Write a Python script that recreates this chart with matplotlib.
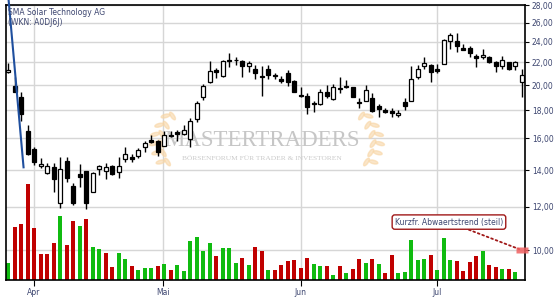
import numpy as np
import matplotlib.pyplot as plt
from matplotlib.patches import Rectangle, Ellipse
from matplotlib.ticker import NullLocator
from matplotlib.transforms import blended_transform_factory, IdentityTransform

# daily candles, SMA Solar (end of March .. start of July)
opens = [21.10, 19.93, 19.00, 16.49, 15.29, 14.23, 13.81, 14.16, 12.17, 14.54,
         13.09, 13.77, 13.94, 12.78, 14.08, 13.92, 14.23, 13.90, 14.66, 14.78,
         14.87, 15.40, 15.90, 15.84, 15.48, 16.22, 16.40, 16.27, 15.95, 17.32,
         19.02, 20.28, 21.35, 20.77, 22.24, 22.27, 22.13, 21.70, 21.40, 20.76,
         21.40, 20.86, 20.52, 21.00, 20.34, 19.18, 19.10, 18.52, 18.47, 19.45,
         18.85, 19.70, 19.93, 19.80, 18.62, 18.74, 18.93, 18.34, 18.01, 17.94,
         17.64, 18.62, 18.74, 20.72, 21.70, 21.79, 21.39, 21.88, 24.03, 24.03,
         23.40, 23.40, 22.63, 22.48, 22.48, 22.07, 21.70, 22.05, 21.68, 20.25]
highs = [21.94, 20.69, 19.45, 16.91, 15.43, 14.70, 14.40, 14.40, 14.80, 14.80,
         13.24, 14.36, 13.97, 13.87, 14.28, 14.40, 14.28, 14.76, 15.43, 14.97,
         15.33, 15.80, 16.22, 15.90, 16.51, 16.51, 16.58, 16.91, 17.42, 18.71,
         20.12, 22.13, 21.50, 22.20, 22.92, 22.50, 22.27, 22.13, 21.77, 21.68,
         21.73, 21.03, 20.80, 21.31, 20.43, 19.82, 19.33, 18.73, 19.65, 19.99,
         20.07, 20.66, 20.43, 19.86, 18.93, 19.99, 19.37, 18.50, 18.18, 18.20,
         18.01, 18.93, 21.68, 21.77, 22.55, 21.88, 21.88, 24.24, 24.85, 24.90,
         23.76, 23.55, 22.81, 23.24, 22.56, 22.13, 22.56, 22.07, 22.13, 21.40]
lows = [21.04, 19.40, 17.22, 14.91, 14.30, 14.10, 13.76, 12.78, 11.92, 13.33,
        12.08, 13.05, 11.86, 12.78, 13.71, 13.46, 13.71, 13.52, 14.49, 14.49,
        14.70, 15.10, 15.67, 14.84, 15.48, 16.10, 15.81, 16.22, 15.43, 17.11,
        18.79, 20.20, 20.60, 20.70, 21.59, 21.77, 20.70, 21.15, 20.56, 19.14,
        20.56, 20.53, 20.20, 19.92, 19.42, 19.04, 17.70, 17.83, 18.36, 18.97,
        18.79, 19.37, 19.79, 19.05, 18.15, 18.74, 17.90, 17.50, 17.76, 17.50,
        17.50, 18.01, 18.68, 20.56, 21.40, 20.28, 21.00, 21.82, 23.27, 23.00,
        23.18, 22.48, 21.60, 22.28, 21.98, 21.15, 21.40, 21.31, 21.35, 19.02]
closes = [21.35, 19.45, 17.69, 14.97, 14.46, 14.36, 14.22, 13.46, 14.04, 13.52,
          12.17, 13.62, 12.17, 13.81, 14.23, 14.16, 13.77, 14.26, 14.95, 14.66,
          15.21, 15.68, 15.73, 15.10, 16.22, 16.18, 16.27, 16.58, 17.23, 18.53,
          19.92, 21.22, 21.13, 22.10, 22.14, 22.20, 21.70, 21.93, 21.00, 20.67,
          20.86, 20.77, 20.39, 20.28, 19.45, 19.10, 18.22, 18.44, 19.45, 19.13,
          19.86, 19.74, 19.80, 19.05, 18.55, 19.59, 17.96, 18.10, 17.86, 17.77,
          17.81, 18.34, 20.54, 21.36, 21.93, 21.15, 21.20, 24.14, 24.65, 23.53,
          23.20, 22.90, 22.40, 22.67, 22.07, 21.70, 22.22, 21.40, 22.05, 20.85]
# volume (last day not yet reported)
volume = [17, 53, 56, 96, 52, 26, 26, 37, 64, 35, 59, 54, 61, 33, 31, 27, 13, 27, 21, 14,
          10, 12, 12, 14, 16, 10, 15, 9, 39, 43, 29, 37, 24, 32, 32, 17, 22, 15, 33, 29,
          10, 10, 15, 19, 20, 12, 22, 16, 14, 14, 5, 14, 7, 11, 21, 17, 21, 16, 7, 25,
          7, 8, 40, 20, 21, 25, 10, 42, 20, 19, 9, 18, 24, 29, 15, 13, 11, 11, 8, 0]
vol_top = 275.0

month_pos = [3.95, 23.85, 45.0, 66.0]
month_labels = ['Apr', 'Mai', 'Jun', 'Jul']
price_ticks = [10, 12, 14, 16, 18, 20, 22, 24, 26, 28]

# steep short-term downtrend line and its current value
trend_x = [0.05, 2.35]
trend_y = [28.6, 14.16]
signal_x, signal_y = 79, 10.0
note_x, note_y = 67.8, 11.25

txt_col = '#3d4670'
red = '#c00000'
green = '#10bb10'

fig = plt.figure(figsize=(5.55, 3.0), dpi=100)
ax = fig.add_axes([6 / 555, 20 / 300, 519 / 555, 275 / 300])
ax.set_yscale('log')

x = np.arange(len(closes))

# watermark
ax.text(0.493, 0.508, 'MASTERTRADERS', transform=ax.transAxes, ha='center', va='center',
        fontsize=16.5, family='Liberation Serif', color='#c6c6c6', zorder=1)
ax.text(0.493, 0.443, 'BÖRSENFORUM FÜR TRADER & INVESTOREN', transform=ax.transAxes,
        ha='center', va='center', fontsize=5.4, family='Liberation Serif', color='#cacaca', zorder=1)
for cx, sgn in [(164, 1), (370, -1)]:
    for k in range(6):
        t = k / 5
        px = cx - sgn * 9 * np.sin(t * np.pi) + sgn * 5 * t
        py = 300 - (164 - 46 * t)
        for side in (-1, 1):
            leaf = Ellipse((px + side * 3.5, py + 2), 9, 3.5, angle=90 + side * 55 - sgn * 20,
                           transform=IdentityTransform(), color='#f8d5a4', alpha=0.6, zorder=1)
            ax.add_patch(leaf)

# volume bars at the bottom
vcol = [green] + [green if closes[i] >= closes[i - 1] else red for i in range(1, len(closes))]
vtrans = blended_transform_factory(ax.transData, ax.transAxes)
for i in range(len(volume)):
    ax.add_patch(Rectangle((x[i] - 0.31, 0), 0.62, volume[i] / vol_top, transform=vtrans,
                           facecolor=vcol[i], edgecolor='none', zorder=2))

# candles
w = 0.62
ax.vlines(x, lows, highs, color='black', lw=1, zorder=3)
for i in range(len(closes)):
    o, c = opens[i], closes[i]
    fc = 'white' if c >= o else 'black'
    ax.add_patch(Rectangle((x[i] - w / 2, min(o, c)), w, abs(c - o), facecolor=fc,
                           edgecolor='black', lw=0.9, zorder=4))

ax.plot(trend_x, trend_y, color='#1f4f9e', lw=1.5, clip_on=False, zorder=5)

ax.annotate('Kurzfr. Abwaertstrend (steil)', xy=(signal_x, signal_y), xytext=(note_x, note_y),
            ha='center', va='center', fontsize=5.5, color=txt_col, zorder=6,
            bbox=dict(boxstyle='round,pad=0.35', fc='white', ec='#a01818', lw=1),
            arrowprops=dict(arrowstyle='-', color='#a01818', lw=1.3, linestyle=':',
                            shrinkA=0, shrinkB=2))
rect_marker = [(-1, -0.55), (1, -0.55), (1, 0.55), (-1, 0.55), (-1, -0.55)]
ax.plot([signal_x], [signal_y], marker=rect_marker, ms=8, color='#f06060', alpha=0.85,
        mec='none', clip_on=False, zorder=6)

ax.text(0.004, 0.988, 'SMA Solar Technology AG', transform=ax.transAxes, ha='left', va='top',
        fontsize=5.5, color=txt_col, zorder=6)
ax.text(0.004, 0.952, '(WKN: A0DJ6J)', transform=ax.transAxes, ha='left', va='top',
        fontsize=5.5, color=txt_col, zorder=6)

ax.set_xlim(-0.35, 79.5)
ax.set_ylim(8.82, 28.0)
ax.yaxis.tick_right()
ax.set_yticks(price_ticks)
ax.set_yticklabels(['%d,00' % p for p in price_ticks])
ax.yaxis.set_minor_locator(NullLocator())
ax.set_xticks(month_pos)
ax.set_xticklabels(month_labels)
ax.grid(True, color='#d6d6d6', lw=1)
ax.set_axisbelow(True)
ax.tick_params(axis='y', direction='out', length=3, labelsize=5.5, labelcolor=txt_col, pad=2)
ax.tick_params(axis='x', direction='out', length=4, labelsize=5.5, labelcolor=txt_col, pad=2)
for s in ax.spines.values():
    s.set_linewidth(1.2)

fig.savefig('out.png', dpi=100)
